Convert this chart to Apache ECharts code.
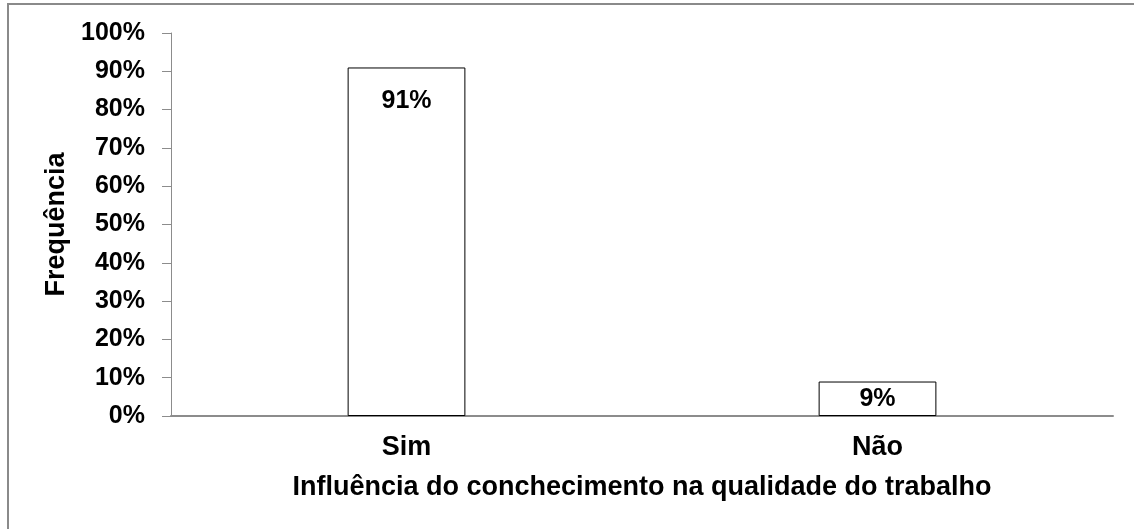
<!DOCTYPE html>
<html>
<head>
<meta charset="utf-8">
<script src="https://cdn.jsdelivr.net/npm/echarts@6/dist/echarts.min.js"></script>
<style>
  html, body { margin: 0; padding: 0; background: #fff; }
  #frame { position: absolute; left: 7px; top: 3px; width: 1140px; height: 540px; border-left: 2px solid #8a8a8a; border-top: 2px solid #8a8a8a; box-sizing: border-box; pointer-events: none; }
  #chart { position: absolute; left: 0; top: 0; width: 1134px; height: 529px; }
</style>
</head>
<body>
<div id="chart"></div>
<div id="frame"></div>
<script>
// dados
const categorias = ['Sim', 'Não']
const valores = [91, 9]
const eixoY = {min: 0, max: 100, interval: 10}

const fonte = '"Liberation Sans", Arial, sans-serif'

let myChart = echarts.init(document.getElementById('chart'))

let options = {
  animation: false,
  grid: {
    left: 171,
    right: 21,
    top: 33,
    bottom: 113
  },
  xAxis: {
    type: 'category',
    data: categorias,
    name: 'Influência do conchecimento na qualidade do trabalho',
    nameLocation: 'middle',
    nameGap: 58,
    nameTextStyle: {color: '#000', fontFamily: fonte, fontWeight: 'bold', fontSize: 27},
    axisLine: {lineStyle: {color: '#8c8c8c', width: 2}},
    axisTick: {show: false},
    axisLabel: {color: '#000', fontFamily: fonte, fontWeight: 'bold', fontSize: 27, margin: 18}
  },
  yAxis: {
    type: 'value',
    min: eixoY.min,
    max: eixoY.max,
    interval: eixoY.interval,
    name: 'Frequência',
    nameLocation: 'middle',
    nameGap: 100,
    nameTextStyle: {color: '#000', fontFamily: fonte, fontWeight: 'bold', fontSize: 27},
    axisLine: {show: true, lineStyle: {color: '#8c8c8c', width: 1}},
    axisTick: {show: true, length: 9, lineStyle: {color: '#8c8c8c'}},
    splitLine: {show: false},
    axisLabel: {color: '#000', fontFamily: fonte, fontWeight: 'bold', fontSize: 25, margin: 26, formatter: '{value}%'}
  },
  series: [
    {
      type: 'bar',
      barWidth: '25%',
      data: valores.map((v, i) => ({
        value: v,
        label: i === 0 ? {position: 'insideTop', distance: 21} : {position: 'inside'}
      })),
      itemStyle: {color: '#fff', borderColor: '#000', borderWidth: 1},
      label: {
        show: true,
        formatter: '{c}%',
        color: '#000',
        fontFamily: fonte,
        fontWeight: 'bold',
        fontSize: 25
      }
    }
  ]
}
myChart.setOption(options)
</script>
</body>
</html>
